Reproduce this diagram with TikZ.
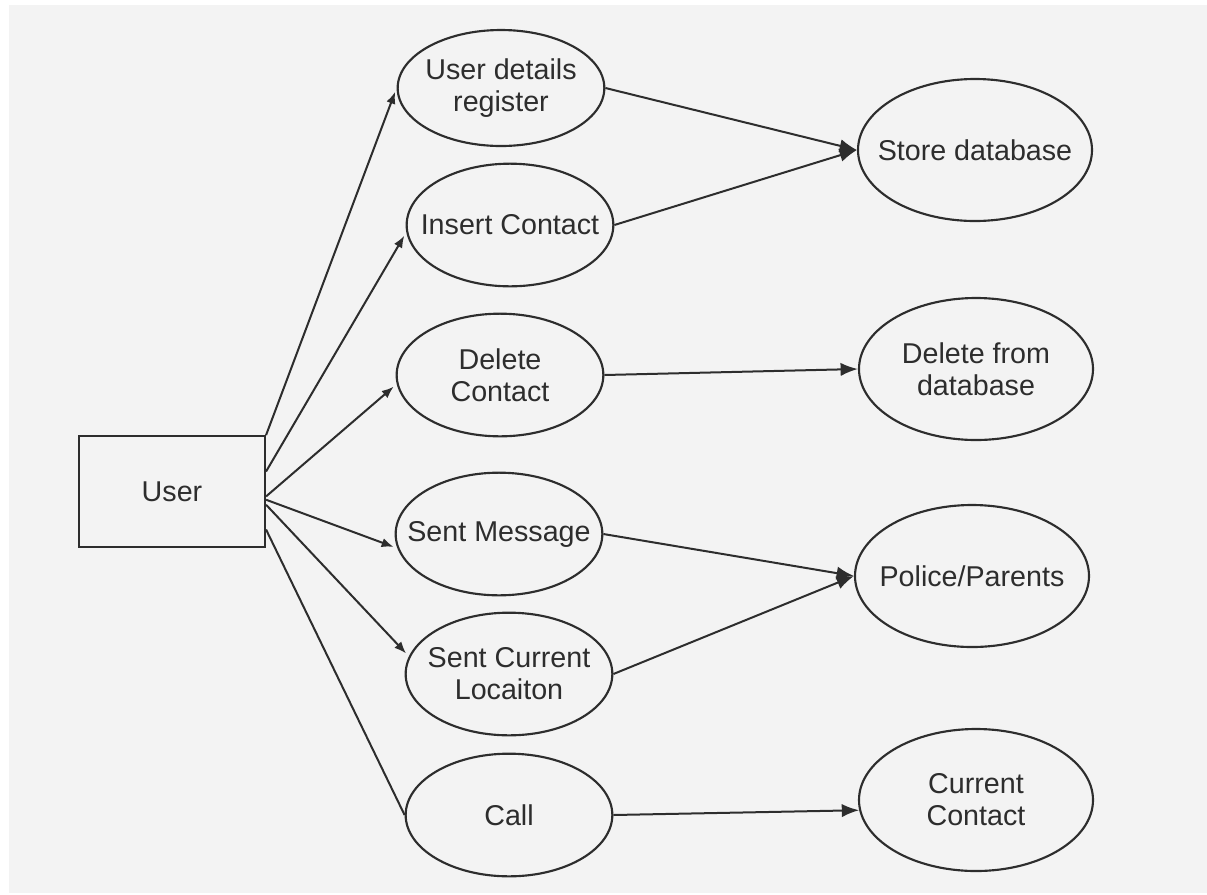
\documentclass[tikz,border=0pt]{standalone}
\usepackage{fontspec}
\setmainfont{Liberation Sans}
\usetikzlibrary{shapes.geometric,arrows.meta}

\definecolor{ink}{RGB}{45,45,45}
\definecolor{paper}{RGB}{243,243,243}

\tikzset{
  actor/.style={draw=ink,line width=1.6pt,rectangle,minimum width=139.5pt,minimum height=83pt,inner sep=0pt,text=ink,font=\fontsize{21.5}{24}\selectfont},
  usecase/.style={draw=ink,line width=1.6pt,ellipse,inner sep=-20pt,minimum width=155pt,minimum height=92pt,align=center,text=ink,font=\fontsize{21.5}{24}\selectfont},
  store/.style={usecase,minimum width=175.5pt,minimum height=106.5pt},
  flow/.style={draw=ink,line width=1.5pt,-{Latex[length=9pt,width=7pt]},shorten >=3pt},
  flowbig/.style={draw=ink,line width=1.5pt,-{Latex[length=13pt,width=10pt]}}
}

\begin{document}
\begin{tikzpicture}[x=0.75pt,y=0.75pt,yscale=-1,xscale=1]
	%set diagram area: 1207 x 894
	\useasboundingbox (0,0) rectangle (1207,894);
	\fill[white] (0,0) rectangle (1207,894);
	\fill[paper] (9,5) rectangle (1207,893);

	%Shape: Rectangle
	\node[actor] (user) at (172,491.5) {User};

	%Shape: Ellipse (middle column)
	\node[usecase,minimum height=87pt] (udr) at (501,88) {User details\\register};
	\node[usecase] (ins) at (510,225) {Insert Contact};
	\node[usecase] (delc) at (500,375) {Delete\\Contact};
	\node[usecase] (sms) at (499,534) {Sent Message};
	\node[usecase] (loc) at (509,674) {Sent Current\\Locaiton};
	\node[usecase] (call) at (509,815) {Call};

	%Shape: Ellipse (right column)
	\node[store] (db) at (975,150) {Store database};
	\node[store] (deldb) at (976,369) {Delete from\\database};
	\node[store] (police) at (972,576) {Police/Parents};
	\node[store] (cur) at (976,800) {Current\\Contact};

	%Straight Lines: user to use cases
	\draw[flow] (user.north east) -- (udr.west);
	\draw[flow] (user.12.7) -- (ins.184);
	\draw[flow] (user.-3.7) -- (delc.185);
	\draw[flow] (user.-5.5) -- (sms.188);
	\draw[flow] (user.-8.6) -- (loc.170);
	\draw[draw=ink,line width=1.5pt] (user.-22.7) -- (call.west);

	%Straight Lines: use cases to targets
	\draw[flowbig] (udr.east) -- (db.west);
	\draw[flowbig] (ins.east) -- (db.west);
	\draw[flowbig] (delc.east) -- (deldb.west);
	\draw[flowbig] (sms.east) -- (police.west);
	\draw[flowbig] (loc.east) -- (police.west);
	\draw[flowbig] (call.east) -- (cur.185);

\end{tikzpicture}
\end{document}
